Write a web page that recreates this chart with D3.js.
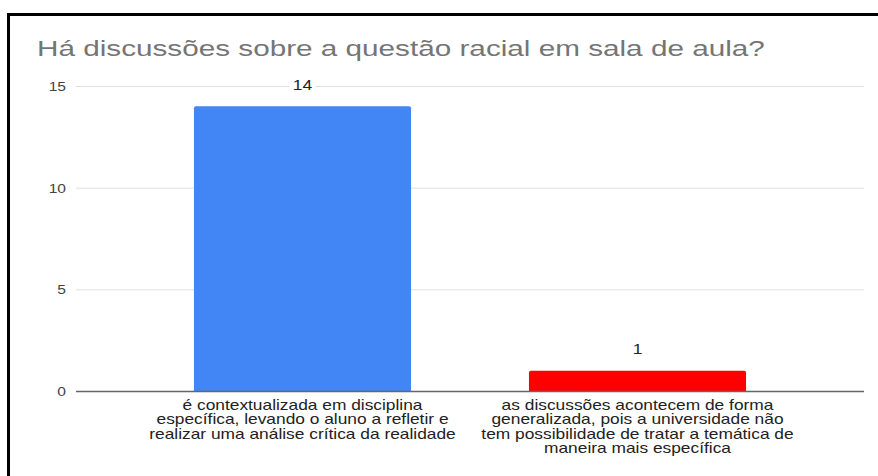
<!DOCTYPE html>
<html>
<head>
<meta charset="utf-8">
<script src="https://cdn.jsdelivr.net/npm/d3@7"></script>
<style>
  html, body { margin: 0; padding: 0; background: #fff; }
  svg { display: block; font-family: "Liberation Sans", Arial, sans-serif; }
</style>
</head>
<body>
<div id="chart"></div>
<script>
var title = 'Há discussões sobre a questão racial em sala de aula?';
var categories = [
    ['é contextualizada em disciplina', 'específica, levando o aluno a refletir e', 'realizar uma análise crítica da realidade'],
    ['as discussões acontecem de forma', 'generalizada, pois a universidade não', 'tem possibilidade de tratar a temática de', 'maneira mais específica']
];
var values = [14, 1];
var colors = ['#4285f4', '#ff0000'];
var yTicks = [0, 5, 10, 15];

;(function () {
    var width = 878, height = 476;

    var svg = d3.select('#chart').append('svg')
        .attr('width', width)
        .attr('height', height);

    // the source picture is stretched sideways, so text gets a horizontal scale
    function stretchedText(parent, x, y, sx, str) {
        return parent.append('g')
            .attr('transform', 'translate(' + x + ',' + y + ') scale(' + sx + ',1)')
            .append('text')
            .text(str);
    }

    // frame
    svg.append('rect')
        .attr('x', 8.5).attr('y', 14.5)
        .attr('width', 900).attr('height', 500)
        .attr('fill', 'none')
        .attr('stroke', '#000')
        .attr('stroke-width', 3);

    stretchedText(svg, 37, 56, 1.35, title)
        .attr('fill', '#757575')
        .attr('font-size', 22);

    var y = d3.scaleLinear().domain([0, 15]).range([391, 86]);
    var x = d3.scaleBand()
        .domain(d3.range(values.length))
        .range([135, 805])
        .paddingInner(0.352)
        .paddingOuter(0.176);

    // gridlines
    svg.append('g').selectAll('line')
        .data(yTicks.filter(function (d) { return d > 0; }))
        .enter().append('line')
        .attr('x1', 76).attr('x2', 864)
        .attr('y1', function (d) { return y(d) + 0.5; })
        .attr('y2', function (d) { return y(d) + 0.5; })
        .attr('stroke', '#e0e0e0');

    // y tick labels
    var yAxisG = svg.append('g');
    yTicks.forEach(function (d) {
        stretchedText(yAxisG, 66, y(d) + 5, 1.2, d)
            .attr('text-anchor', 'end')
            .attr('font-size', 13)
            .attr('fill', '#444');
    });

    // bars
    svg.append('g').selectAll('path')
        .data(values)
        .enter().append('path')
        .attr('fill', function (d, i) { return colors[i]; })
        .attr('d', function (d, i) {
            var x0 = x(i), w = x.bandwidth(), y0 = y(d), y1 = y(0), r = 2;
            return 'M' + x0 + ',' + y1 + 'V' + (y0 + r) + 'Q' + x0 + ',' + y0 + ' ' + (x0 + r) + ',' + y0 +
                'H' + (x0 + w - r) + 'Q' + (x0 + w) + ',' + y0 + ' ' + (x0 + w) + ',' + (y0 + r) + 'V' + y1 + 'Z';
        });

    // baseline
    svg.append('line')
        .attr('x1', 76).attr('x2', 864)
        .attr('y1', y(0) + 0.5).attr('y2', y(0) + 0.5)
        .attr('stroke', '#666')
        .attr('stroke-width', 1.5);

    // value labels with white background
    var vl = svg.append('g');
    values.forEach(function (d, i) {
        var cx = x(i) + x.bandwidth() / 2, cy = y(d) - 16.5;
        var w = String(d).length * 10 + 6;
        vl.append('rect')
            .attr('x', cx - w / 2).attr('y', cy - 12)
            .attr('width', w).attr('height', 16)
            .attr('fill', '#fff');
        stretchedText(vl, cx, cy, 1.25, d)
            .attr('text-anchor', 'middle')
            .attr('font-size', 14)
            .attr('fill', '#222');
    });

    // category labels
    var cl = svg.append('g');
    categories.forEach(function (lines, i) {
        var cx = x(i) + x.bandwidth() / 2;
        lines.forEach(function (line, j) {
            stretchedText(cl, cx, 410 + j * 14.4, 1.24, line)
                .attr('text-anchor', 'middle')
                .attr('font-size', 14)
                .attr('fill', '#222');
        });
    });
}());
</script>
</body>
</html>
